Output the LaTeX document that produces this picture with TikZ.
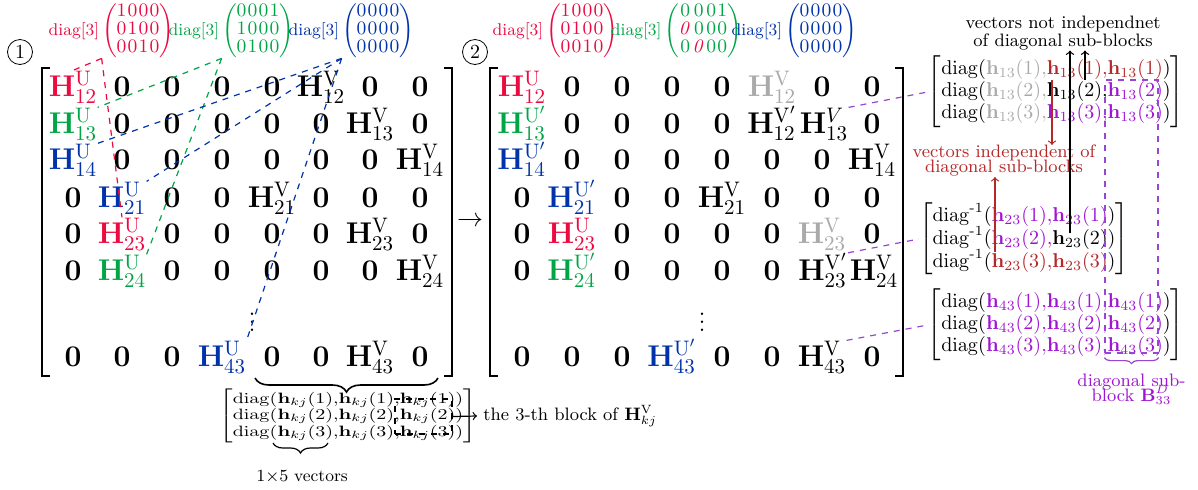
\RequirePackage{fix-cm}
\documentclass[tikz,border=0pt]{standalone}
\usepackage{amsmath}
\usepackage{tikz}
\usetikzlibrary{positioning}
\usetikzlibrary{decorations.pathreplacing}

\definecolor{hred}{RGB}{235,10,65}
\definecolor{hgreen}{RGB}{0,165,70}
\definecolor{hblue}{RGB}{0,50,170}
\definecolor{lgray}{RGB}{170,170,170}
\definecolor{hpurple}{RGB}{160,20,210}
\definecolor{dpurple}{RGB}{150,70,210}
\definecolor{dred}{RGB}{180,40,40}

\newcommand{\Hu}[1]{\mathbf{H}^{\mathrm{U}}_{#1}}
\newcommand{\Hup}[1]{\mathbf{H}^{\mathrm{U}'}_{#1}}
\newcommand{\Hv}[1]{\mathbf{H}^{\mathrm{V}}_{#1}}
\newcommand{\Hvp}[1]{\mathbf{H}^{\mathrm{V}'}_{#1}}

\tikzset{
  ent/.style={font=\fontsize{15}{18}\selectfont, inner sep=0pt, anchor=base},
  lbl/.style={font=\fontsize{8.5}{10}\selectfont, inner sep=0pt},
  selmat/.style={font={\fontsize{9.5}{10.3}\selectfont\renewcommand{\arraystretch}{0.85}\setlength{\arraycolsep}{0.3pt}\delimiterfactor=850}, inner sep=0pt},
  vbox/.style={font=\fontsize{10}{12}\selectfont, inner sep=0pt},
  note/.style={font={\fontsize{9}{9}\selectfont\lineskiplimit=-5pt}, align=center, inner sep=0pt},
  tnote/.style={font={\fontsize{9}{7.5}\selectfont\lineskiplimit=-5pt}, align=center, inner sep=0pt},
  bracket/.style={line width=0.8pt},
}

\begin{document}
\begin{tikzpicture}[x=0.5pt,y=-0.5pt]
\useasboundingbox (0,0) rectangle (1198,489);

\node[circle,draw,inner sep=0pt,minimum size=12.5pt,font=\fontsize{10}{12}\selectfont] (one) at (20,52) {1};
\node[circle,draw,inner sep=0pt,minimum size=12.5pt,font=\fontsize{10}{12}\selectfont] (two) at (475,52) {2};

% labels over matrix 1
\node[selmat,text=hred] (rmat1) at (138,31) {$\begin{pmatrix}1&0&0&0\\0&1&0&0\\0&0&1&0\end{pmatrix}$};
\node[lbl,text=hred,left=1pt of rmat1] (rdiag1) {diag[3]};
\node[selmat,text=hgreen] (gmat1) at (258,31) {$\begin{pmatrix}0&0&0&1\\1&0&0&0\\0&1&0&0\end{pmatrix}$};
\node[lbl,text=hgreen,left=1pt of gmat1] (gdiag1) {diag[3]};
\node[selmat,text=hblue] (bmat1) at (378,31) {$\begin{pmatrix}0&0&0&0\\0&0&0&0\\0&0&0&0\end{pmatrix}$};
\node[lbl,text=hblue,left=1pt of bmat1] (bdiag1) {diag[3]};

% labels over matrix 2
\node[selmat,text=hred] (rmat2) at (582,31) {$\begin{pmatrix}1&0&0&0\\0&1&0&0\\0&0&1&0\end{pmatrix}$};
\node[lbl,text=hred,left=1pt of rmat2] (rdiag2) {diag[3]};
\node[selmat,text=hgreen] (gmat2) at (703,31) {$\begin{pmatrix}0&0&0&1\\{\color{hred}\mathit{0}}&0&0&0\\0&{\color{hred}\mathit{0}}&0&0\end{pmatrix}$};
\node[lbl,text=hgreen,left=1pt of gmat2] (gdiag2) {diag[3]};
\node[selmat,text=hblue] (bmat2) at (821,31) {$\begin{pmatrix}0&0&0&0\\0&0&0&0\\0&0&0&0\end{pmatrix}$};
\node[lbl,text=hblue,left=1pt of bmat2] (bdiag2) {diag[3]};

% matrix 1
\draw[bracket] (50,68) -- (42,68) -- (42,376) -- (50,376);
\draw[bracket] (444,68) -- (452,68) -- (452,376) -- (444,376);

\node[ent,text=hred] (a-1-1) at (73,96) {$\Hu{12}$};
\foreach \c/\x in {2/122,3/172,4/222,5/272,7/370,8/420}
  \node[ent] (a-1-\c) at (\x,96) {$\mathbf{0}$};
\node[ent] (a-1-6) at (321,96) {$\Hv{12}$};

\node[ent,text=hgreen] (a-2-1) at (73,133) {$\Hu{13}$};
\foreach \c/\x in {2/122,3/172,4/222,5/272,6/321,8/420}
  \node[ent] (a-2-\c) at (\x,133) {$\mathbf{0}$};
\node[ent] (a-2-7) at (370,133) {$\Hv{13}$};

\node[ent,text=hblue] (a-3-1) at (73,169) {$\Hu{14}$};
\foreach \c/\x in {2/122,3/172,4/222,5/272,6/321,7/370}
  \node[ent] (a-3-\c) at (\x,169) {$\mathbf{0}$};
\node[ent] (a-3-8) at (420,169) {$\Hv{14}$};

\node[ent,text=hblue] (a-4-2) at (122,207) {$\Hu{21}$};
\foreach \c/\x in {1/73,3/172,4/222,6/321,7/370,8/420}
  \node[ent] (a-4-\c) at (\x,207) {$\mathbf{0}$};
\node[ent] (a-4-5) at (272,207) {$\Hv{21}$};

\node[ent,text=hred] (a-5-2) at (122,243) {$\Hu{23}$};
\foreach \c/\x in {1/73,3/172,4/222,5/272,6/321,8/420}
  \node[ent] (a-5-\c) at (\x,243) {$\mathbf{0}$};
\node[ent] (a-5-7) at (370,243) {$\Hv{23}$};

\node[ent,text=hgreen] (a-6-2) at (122,280) {$\Hu{24}$};
\foreach \c/\x in {1/73,3/172,4/222,5/272,6/321,7/370}
  \node[ent] (a-6-\c) at (\x,280) {$\mathbf{0}$};
\node[ent] (a-6-8) at (420,280) {$\Hv{24}$};

\node[ent,anchor=center] (a-dots) at (252,316) {$\vdots$};

\node[ent,text=hblue] (a-8-4) at (222,366) {$\Hu{43}$};
\foreach \c/\x in {1/73,2/122,3/172,5/272,6/321,8/420}
  \node[ent] (a-8-\c) at (\x,366) {$\mathbf{0}$};
\node[ent] (a-8-7) at (370,366) {$\Hv{43}$};

\draw[dashed,hred,line width=0.6pt] (rmat1.south west) -- (a-1-1.north);
\draw[dashed,hred,line width=0.6pt] (rmat1.south west) -- (a-5-2.north);
\draw[dashed,hgreen,line width=0.6pt] (gmat1.south west) -- (a-2-1.north east);
\draw[dashed,hgreen,line width=0.6pt] (gmat1.south west) -- (a-6-2.north east);
\draw[dashed,hblue,line width=0.6pt] (bmat1.south west) -- (a-3-1.north east);
\draw[dashed,hblue,line width=0.6pt] (bmat1.south west) -- (a-4-2.north east);
\draw[dashed,hblue,line width=0.6pt] (bmat1.south west) -- (a-8-4.north east);

\node[ent,anchor=center,font=\fontsize{13}{15}\selectfont] (to) at (470,222) {$\rightarrow$};

% matrix 2
\draw[bracket] (498,68) -- (490,68) -- (490,376) -- (498,376);
\draw[bracket] (895,68) -- (903,68) -- (903,376) -- (895,376);

\node[ent,text=hred] (b-1-1) at (522,96) {$\Hu{12}$};
\foreach \c/\x in {2/572,3/622,4/672,5/722,7/822,8/872}
  \node[ent] (b-1-\c) at (\x,96) {$\mathbf{0}$};
\node[ent,text=lgray] (b-1-6) at (772,96) {$\Hv{12}$};

\node[ent,text=hgreen] (b-2-1) at (522,133) {$\Hup{13}$};
\foreach \c/\x in {2/572,3/622,4/672,5/722,8/872}
  \node[ent] (b-2-\c) at (\x,133) {$\mathbf{0}$};
\node[ent] (b-2-6) at (772,133) {$\Hvp{12}$};
\node[ent] (b-2-7) at (824,133) {$\mathbf{H}^{V}_{13}$};

\node[ent,text=hblue] (b-3-1) at (522,169) {$\Hup{14}$};
\foreach \c/\x in {2/572,3/622,4/672,5/722,6/772,7/822}
  \node[ent] (b-3-\c) at (\x,169) {$\mathbf{0}$};
\node[ent] (b-3-8) at (872,169) {$\Hv{14}$};

\node[ent,text=hblue] (b-4-2) at (572,207) {$\Hup{21}$};
\foreach \c/\x in {1/522,3/622,4/672,6/772,7/822,8/872}
  \node[ent] (b-4-\c) at (\x,207) {$\mathbf{0}$};
\node[ent] (b-4-5) at (722,207) {$\Hv{21}$};

\node[ent,text=hred] (b-5-2) at (572,243) {$\Hu{23}$};
\foreach \c/\x in {1/522,3/622,4/672,5/722,6/772,8/872}
  \node[ent] (b-5-\c) at (\x,243) {$\mathbf{0}$};
\node[ent,text=lgray] (b-5-7) at (822,243) {$\Hv{23}$};

\node[ent,text=hgreen] (b-6-2) at (572,280) {$\Hup{24}$};
\foreach \c/\x in {1/522,3/622,4/672,5/722,6/772}
  \node[ent] (b-6-\c) at (\x,280) {$\mathbf{0}$};
\node[ent] (b-6-7) at (823,280) {$\Hvp{23}$};
\node[ent] (b-6-8) at (874,280) {$\Hv{24}$};

\node[ent,anchor=center] (b-dots) at (702,316) {$\vdots$};

\node[ent,text=hblue] (b-8-4) at (672,366) {$\Hup{43}$};
\foreach \c/\x in {1/522,2/572,3/622,5/722,6/772,8/872}
  \node[ent] (b-8-\c) at (\x,366) {$\mathbf{0}$};
\node[ent] (b-8-7) at (822,366) {$\Hv{43}$};

% blocks on the right
\node[vbox] (box13) at (1056,92) {$\left[\begin{array}{@{}l@{}}
\mathrm{diag}({\color{lgray}\mathbf{h}_{13}(1){,}}{\color{dred}\mathbf{h}_{13}(1){,}\mathbf{h}_{13}(1)})\\[-1pt]
\mathrm{diag}({\color{lgray}\mathbf{h}_{13}(2){,}}\mathbf{h}_{13}(2){,}{\color{hpurple}\mathbf{h}_{13}(2)})\\[-1pt]
\mathrm{diag}({\color{lgray}\mathbf{h}_{13}(3){,}}{\color{hpurple}\mathbf{h}_{13}(3){,}\mathbf{h}_{13}(3)})
\end{array}\right]$};
\node[vbox] (box23) at (1024,239) {$\left[\begin{array}{@{}l@{}}
\mathrm{diag}^{\text{-}1}({\color{hpurple}\mathbf{h}_{23}(1){,}\mathbf{h}_{23}(1)})\\[-1pt]
\mathrm{diag}^{\text{-}1}({\color{hpurple}\mathbf{h}_{23}(2){,}}\mathbf{h}_{23}(2))\\[-1pt]
\mathrm{diag}^{\text{-}1}({\color{dred}\mathbf{h}_{23}(3){,}\mathbf{h}_{23}(3)})
\end{array}\right]$};
\node[vbox] (box43) at (1056,325) {$\left[\begin{array}{@{}l@{}}
\mathrm{diag}({\color{hpurple}\mathbf{h}_{43}(1){,}\mathbf{h}_{43}(1){,}\mathbf{h}_{43}(1)})\\[-1pt]
\mathrm{diag}({\color{hpurple}\mathbf{h}_{43}(2){,}\mathbf{h}_{43}(2){,}\mathbf{h}_{43}(2)})\\[-1pt]
\mathrm{diag}({\color{hpurple}\mathbf{h}_{43}(3){,}\mathbf{h}_{43}(3){,}\mathbf{h}_{43}(3)})
\end{array}\right]$};

\draw[dpurple,dashed,line width=0.6pt] (b-2-7.north east) -- (box13.west);
\draw[dpurple,dashed,line width=0.6pt] (b-6-7.north east) -- (box23.west);
\draw[dpurple,dashed,line width=0.6pt] (b-8-7.north east) -- (box43.west);

\node[draw=dpurple,dashed,line width=0.6pt,inner sep=0pt,minimum width=26.5pt,minimum height=136.5pt] (subblk) at (1131.5,216.5) {};
\draw[dpurple,line width=0.6pt,decorate,decoration={brace,mirror,amplitude=3pt}] ([yshift=-2pt]subblk.south west) -- ([yshift=-2pt]subblk.south east);
\node[tnote,text=hpurple,below=10pt of subblk.south] (subtxt) {diagonal sub-\\block $\mathbf{B}^{D}_{33}$};

\node[note] (notindep) at (1063,33) {vectors not independnet\\of diagonal sub-blocks};
\node[tnote,text=dred] (indep) at (1004,161) {vectors independent of\\diagonal sub-blocks};

\coordinate (nb1) at (1070,233);
\coordinate (nb2) at (1085,80);
\draw[->,line width=0.6pt] (nb1) -- (nb1 |- notindep.south);
\draw[->,line width=0.6pt] (nb2) -- (nb2 |- notindep.south);
\coordinate (ri1) at (1052,80);
\coordinate (ri2) at (995,252);
\draw[->,dred,line width=0.6pt] (ri1) -- (ri1 |- indep.north);
\draw[->,dred,line width=0.6pt] (ri2) -- (ri2 |- indep.south);

% block below matrix 1
\draw[thick,decorate,decoration={brace,mirror,amplitude=7pt}] (255,378) -- (438,378);
\node[vbox] (kjbox) at (348,416) {\scalebox{1}[0.75]{$\left[\begin{array}{@{}l@{}}
\mathrm{diag}(\mathbf{h}_{kj}(1){,}\mathbf{h}_{kj}(1){,}\mathbf{h}_{kj}(1))\\[-1pt]
\mathrm{diag}(\mathbf{h}_{kj}(2){,}\mathbf{h}_{kj}(2){,}\mathbf{h}_{kj}(2))\\[-1pt]
\mathrm{diag}(\mathbf{h}_{kj}(3){,}\mathbf{h}_{kj}(3){,}\mathbf{h}_{kj}(3))
\end{array}\right]$}};
\node[draw,dashed,line width=0.6pt,inner sep=0pt,minimum width=28.5pt,minimum height=17.5pt] (blk) at (423.5,416.5) {};
\node[lbl,anchor=west,inner sep=3pt,font=\fontsize{9}{11}\selectfont] (blktxt) at (477,416) {the 3-th block of $\mathbf{H}^{\mathrm{V}}_{kj}$};
\draw[->,line width=0.6pt] (blk.east) -- (blktxt.west);
\draw[line width=0.6pt,decorate,decoration={brace,mirror,amplitude=5pt}] (273,443) -- (328,443);
\node[lbl] (vec) at (302,477) {$1{\times}5$ vectors};

\end{tikzpicture}
\end{document}
